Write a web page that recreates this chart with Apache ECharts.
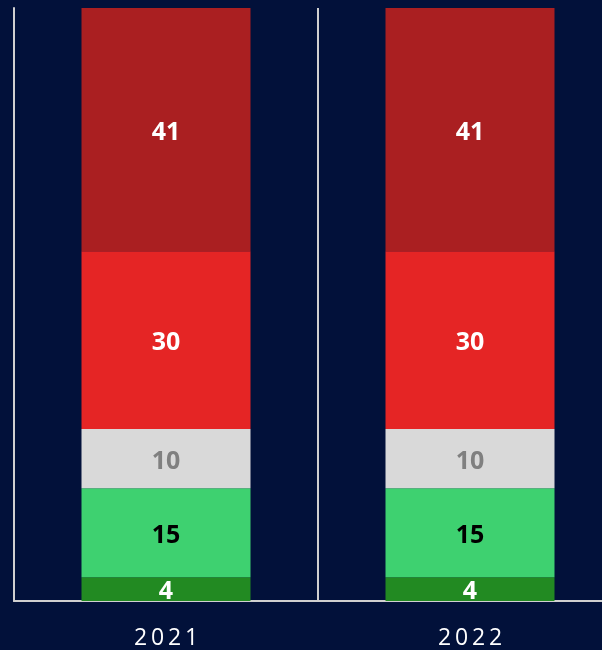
<!DOCTYPE html>
<html><head><meta charset="utf-8">
<script src="https://cdn.jsdelivr.net/npm/echarts@6/dist/echarts.min.js"></script>
<style>html,body{margin:0;padding:0;background:#02113a;overflow:hidden;width:602px;height:650px;}#c{width:622px;height:650px;}</style>
</head><body><div id="c"></div>
<script>
const categories = ['2021', '2022'];
const s4 = [4, 4];
const s15 = [15, 15];
const s10 = [10, 10];
const s30 = [30, 30];
const s41 = [41, 41];
const yTicks = [0, 100];

const lbl = (color) => ({show: true, position: 'inside', offset: [0, 3], color: color, fontSize: 25, fontWeight: 'bold', fontFamily: 'Open Sans'});
const mk = (name, data, color, labelColor) => ({
  name, type: 'bar', stack: 'a', data, barWidth: 169,
  itemStyle: {color}, label: lbl(labelColor)
});

const chart = echarts.init(document.getElementById('c'));
chart.setOption({
  backgroundColor: '#02113a',
  animation: false,
  grid: {left: 14, right: 0, top: 8, bottom: 49, containLabel: false},
  xAxis: {
    type: 'category', data: categories,
    axisLine: {show: true, lineStyle: {color: '#d0d0d0', width: 2}},
    axisTick: {show: false},
    splitLine: {show: true, lineStyle: {color: '#d0d0d0', width: 2}},
    axisLabel: {color: '#ffffff', fontSize: 23, fontFamily: 'Open Sans', margin: 26,
      formatter: v => v.split('').join('\u2009')}
  },
  yAxis: {
    type: 'value', min: yTicks[0], max: yTicks[1],
    axisLine: {show: true, lineStyle: {color: '#d0d0d0', width: 2}},
    axisTick: {show: false}, axisLabel: {show: false}, splitLine: {show: false}
  },
  series: [
    mk('a', s4, '#228a22', '#ffffff'),
    mk('b', s15, '#3ed170', '#000000'),
    mk('c', s10, '#d9d9d9', '#808080'),
    mk('d', s30, '#e52525', '#ffffff'),
    mk('e', s41, '#aa1f21', '#ffffff')
  ]
});
</script></body></html>
